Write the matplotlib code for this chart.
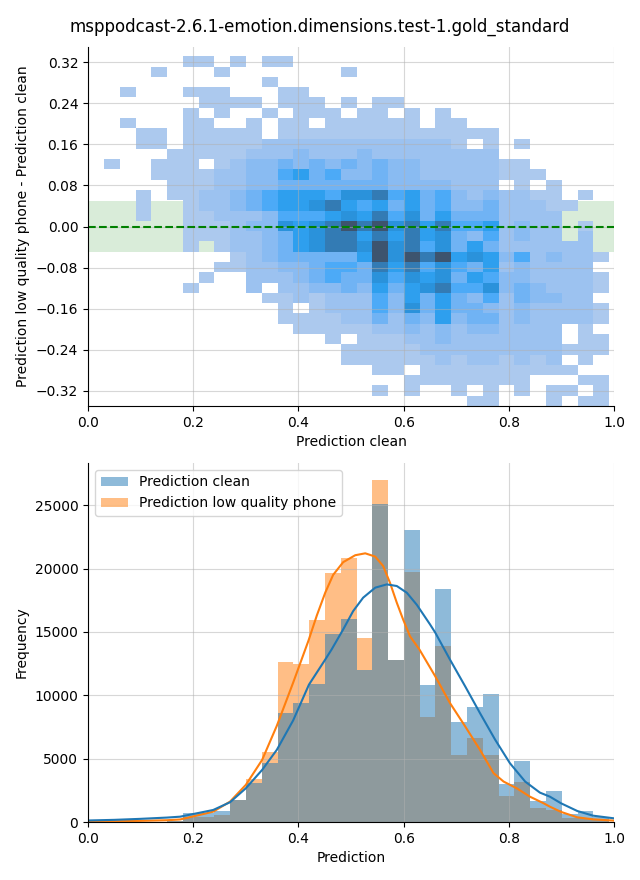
import numpy as np
import matplotlib
matplotlib.use("Agg")
import matplotlib.pyplot as plt
import seaborn as sns

TITLE = "msppodcast-2.6.1-emotion.dimensions.test-1.gold_standard"

# bin edges (same x bins for both panels)
X_EDGES = np.linspace(0.0304, 0.9905, 33)
Y_EDGES = np.linspace(-0.35, 0.332, 35)

# 2d histogram of (clean, phone - clean): shade level per cell,
# 0 = empty .. 9 = darkest, top row first, one char per x bin
DIFF_GRID = [
    "00000110101100000000000000000000",
    "00010001000000010000000000000000",
    "00000000001000000000000000000000",
    "01000111000110000000000000000000",
    "00000011110111010110000000000000",
    "00000101001011101101010000000000",
    "01000110010110111111011000000000",
    "00110111110111111111111110000000",
    "00110111112222222222221010100000",
    "00001111122232223222222220000000",
    "10011101233434343433222221100000",
    "00011112233564533433222221110000",
    "00001112233444444433332220101000",
    "00101122345666577856453232211010",
    "00100122345667865646453342221100",
    "00100112223555676857464442222000",
    "00000111233767898978685562322010",
    "00000111223467886868674352322020",
    "00000101223467887978574642222220",
    "00000000123444446979896763523221",
    "00000001122334554868575462322220",
    "00000010022234544757674653322221",
    "00000100020223343646785573432221",
    "00000000001121222536464352433220",
    "00000000000101222537464432322221",
    "00000000000111122424363442322221",
    "00000000000011111223232332222010",
    "00000000000000101112232222222011",
    "00000000000000011111222222222111",
    "00000000000000011111121221212010",
    "00000000000000000110111111111100",
    "00000000000000000001111111100011",
    "00000000000000000101001010101101",
    "00000000000000000000000110001011",
]
# approx count behind each shade level
LEVEL_COUNT = [0, 3, 120, 240, 380, 540, 720, 920, 1280, 1900]

# histogram counts per x bin
CLEAN_COUNTS = [2, 6, 12, 30, 90, 690, 690, 870, 1750, 3060, 4640, 8600,
                9390, 10920, 14870, 15980, 12030, 25080, 12800, 23020, 10840,
                18350, 7910, 9100, 10130, 3000, 4830, 1660, 2450, 630, 870, 420]
PHONE_COUNTS = [1, 4, 10, 25, 70, 420, 420, 550, 1700, 3380, 5540, 12660,
                12500, 15900, 19620, 20860, 14480, 26980, 12800, 19700, 8310,
                13850, 5300, 6650, 5300, 2060, 3160, 1110, 950, 320, 320, 150]

# kde curves
CLEAN_KDE_X = [0.0, 0.05, 0.10, 0.15, 0.175, 0.238, 0.270, 0.300, 0.331, 0.359,
               0.390, 0.420, 0.451, 0.463, 0.485, 0.504, 0.523, 0.546, 0.568,
               0.587, 0.606, 0.625, 0.650, 0.660, 0.688, 0.717, 0.745, 0.774,
               0.802, 0.831, 0.859, 0.878, 0.899, 0.930, 0.960, 1.0]
CLEAN_KDE = [120, 170, 250, 350, 420, 950, 1560, 2660, 4110, 5700,
             8020, 10840, 12820, 13610, 15190, 16640, 17700, 18490, 18750,
             18620, 18090, 17140, 15600, 14950, 12820, 10700, 8600, 6490,
             4640, 3190, 2320, 2000, 1480, 870, 500, 290]
PHONE_KDE_X = [0.0, 0.05, 0.10, 0.15, 0.175, 0.238, 0.270, 0.300, 0.331, 0.359,
               0.390, 0.419, 0.435, 0.451, 0.466, 0.485, 0.508, 0.527, 0.546,
               0.561, 0.574, 0.587, 0.599, 0.612, 0.630, 0.660, 0.688, 0.717,
               0.745, 0.771, 0.790, 0.815, 0.840, 0.866, 0.878, 0.899, 0.930,
               0.960, 1.0]
PHONE_KDE = [40, 60, 90, 140, 200, 815, 1610, 2930, 4900, 7600,
             11000, 14300, 16300, 18100, 19500, 20500, 21050, 21200, 20940,
             20200, 18880, 17300, 15980, 14660, 13610, 11500, 9390, 7540,
             5700, 3850, 3190, 2660, 2000, 1480, 1210, 800, 370,
             210, 110]

X_TICKS = [0.0, 0.2, 0.4, 0.6, 0.8, 1.0]
Y_TICKS = [-0.32, -0.24, -0.16, -0.08, 0.0, 0.08, 0.16, 0.24, 0.32]

xc = (X_EDGES[:-1] + X_EDGES[1:]) / 2
yc = (Y_EDGES[:-1] + Y_EDGES[1:]) / 2

xs, ys, ws = [], [], []
for r, row in enumerate(reversed(DIFF_GRID)):
    for c, ch in enumerate(row):
        if ch != "0":
            xs.append(xc[c])
            ys.append(yc[r])
            ws.append(LEVEL_COUNT[int(ch)])

fig = plt.figure(figsize=(6.4, 8.8), dpi=100)
ax1 = fig.add_axes([0.1375, 0.5386, 0.822, 0.408])
ax2 = fig.add_axes([0.1375, 0.0659, 0.822, 0.408])

# top: difference heatmap
ax1.axhspan(-0.05, 0.05, color="green", alpha=0.15, lw=0)
sns.histplot(x=xs, y=ys, weights=ws, bins=[X_EDGES, Y_EDGES], ax=ax1)
ax1.axhline(0, color="green", ls="--", lw=1.5)
ax1.set_xlim(0, 1)
ax1.set_ylim(-0.35, 0.35)
ax1.set_xticks(X_TICKS)
ax1.set_yticks(Y_TICKS)
ax1.set_xlabel("Prediction clean")
ax1.set_ylabel("Prediction low quality phone - Prediction clean")
ax1.grid(alpha=0.5)

# bottom: distributions
bw = X_EDGES[1] - X_EDGES[0]
phone = ax2.bar(xc, PHONE_COUNTS, width=bw, color="C1", alpha=0.5, lw=0,
                label="Prediction low quality phone")
clean = ax2.bar(xc, CLEAN_COUNTS, width=bw, color="C0", alpha=0.5, lw=0,
                label="Prediction clean")
ax2.plot(PHONE_KDE_X, PHONE_KDE, color="C1", lw=1.5)
ax2.plot(CLEAN_KDE_X, CLEAN_KDE, color="C0", lw=1.5)
ax2.set_xlim(0, 1)
ax2.set_xticks(X_TICKS)
ax2.set_xlabel("Prediction")
ax2.set_ylabel("Frequency")
ax2.grid(alpha=0.5)
ax2.legend(handles=[clean, phone], loc="upper left")

for ax in (ax1, ax2):
    ax.spines[["top", "right"]].set_visible(False)

fig.suptitle(TITLE, fontsize=12)
fig.savefig("out.png", dpi=100)
